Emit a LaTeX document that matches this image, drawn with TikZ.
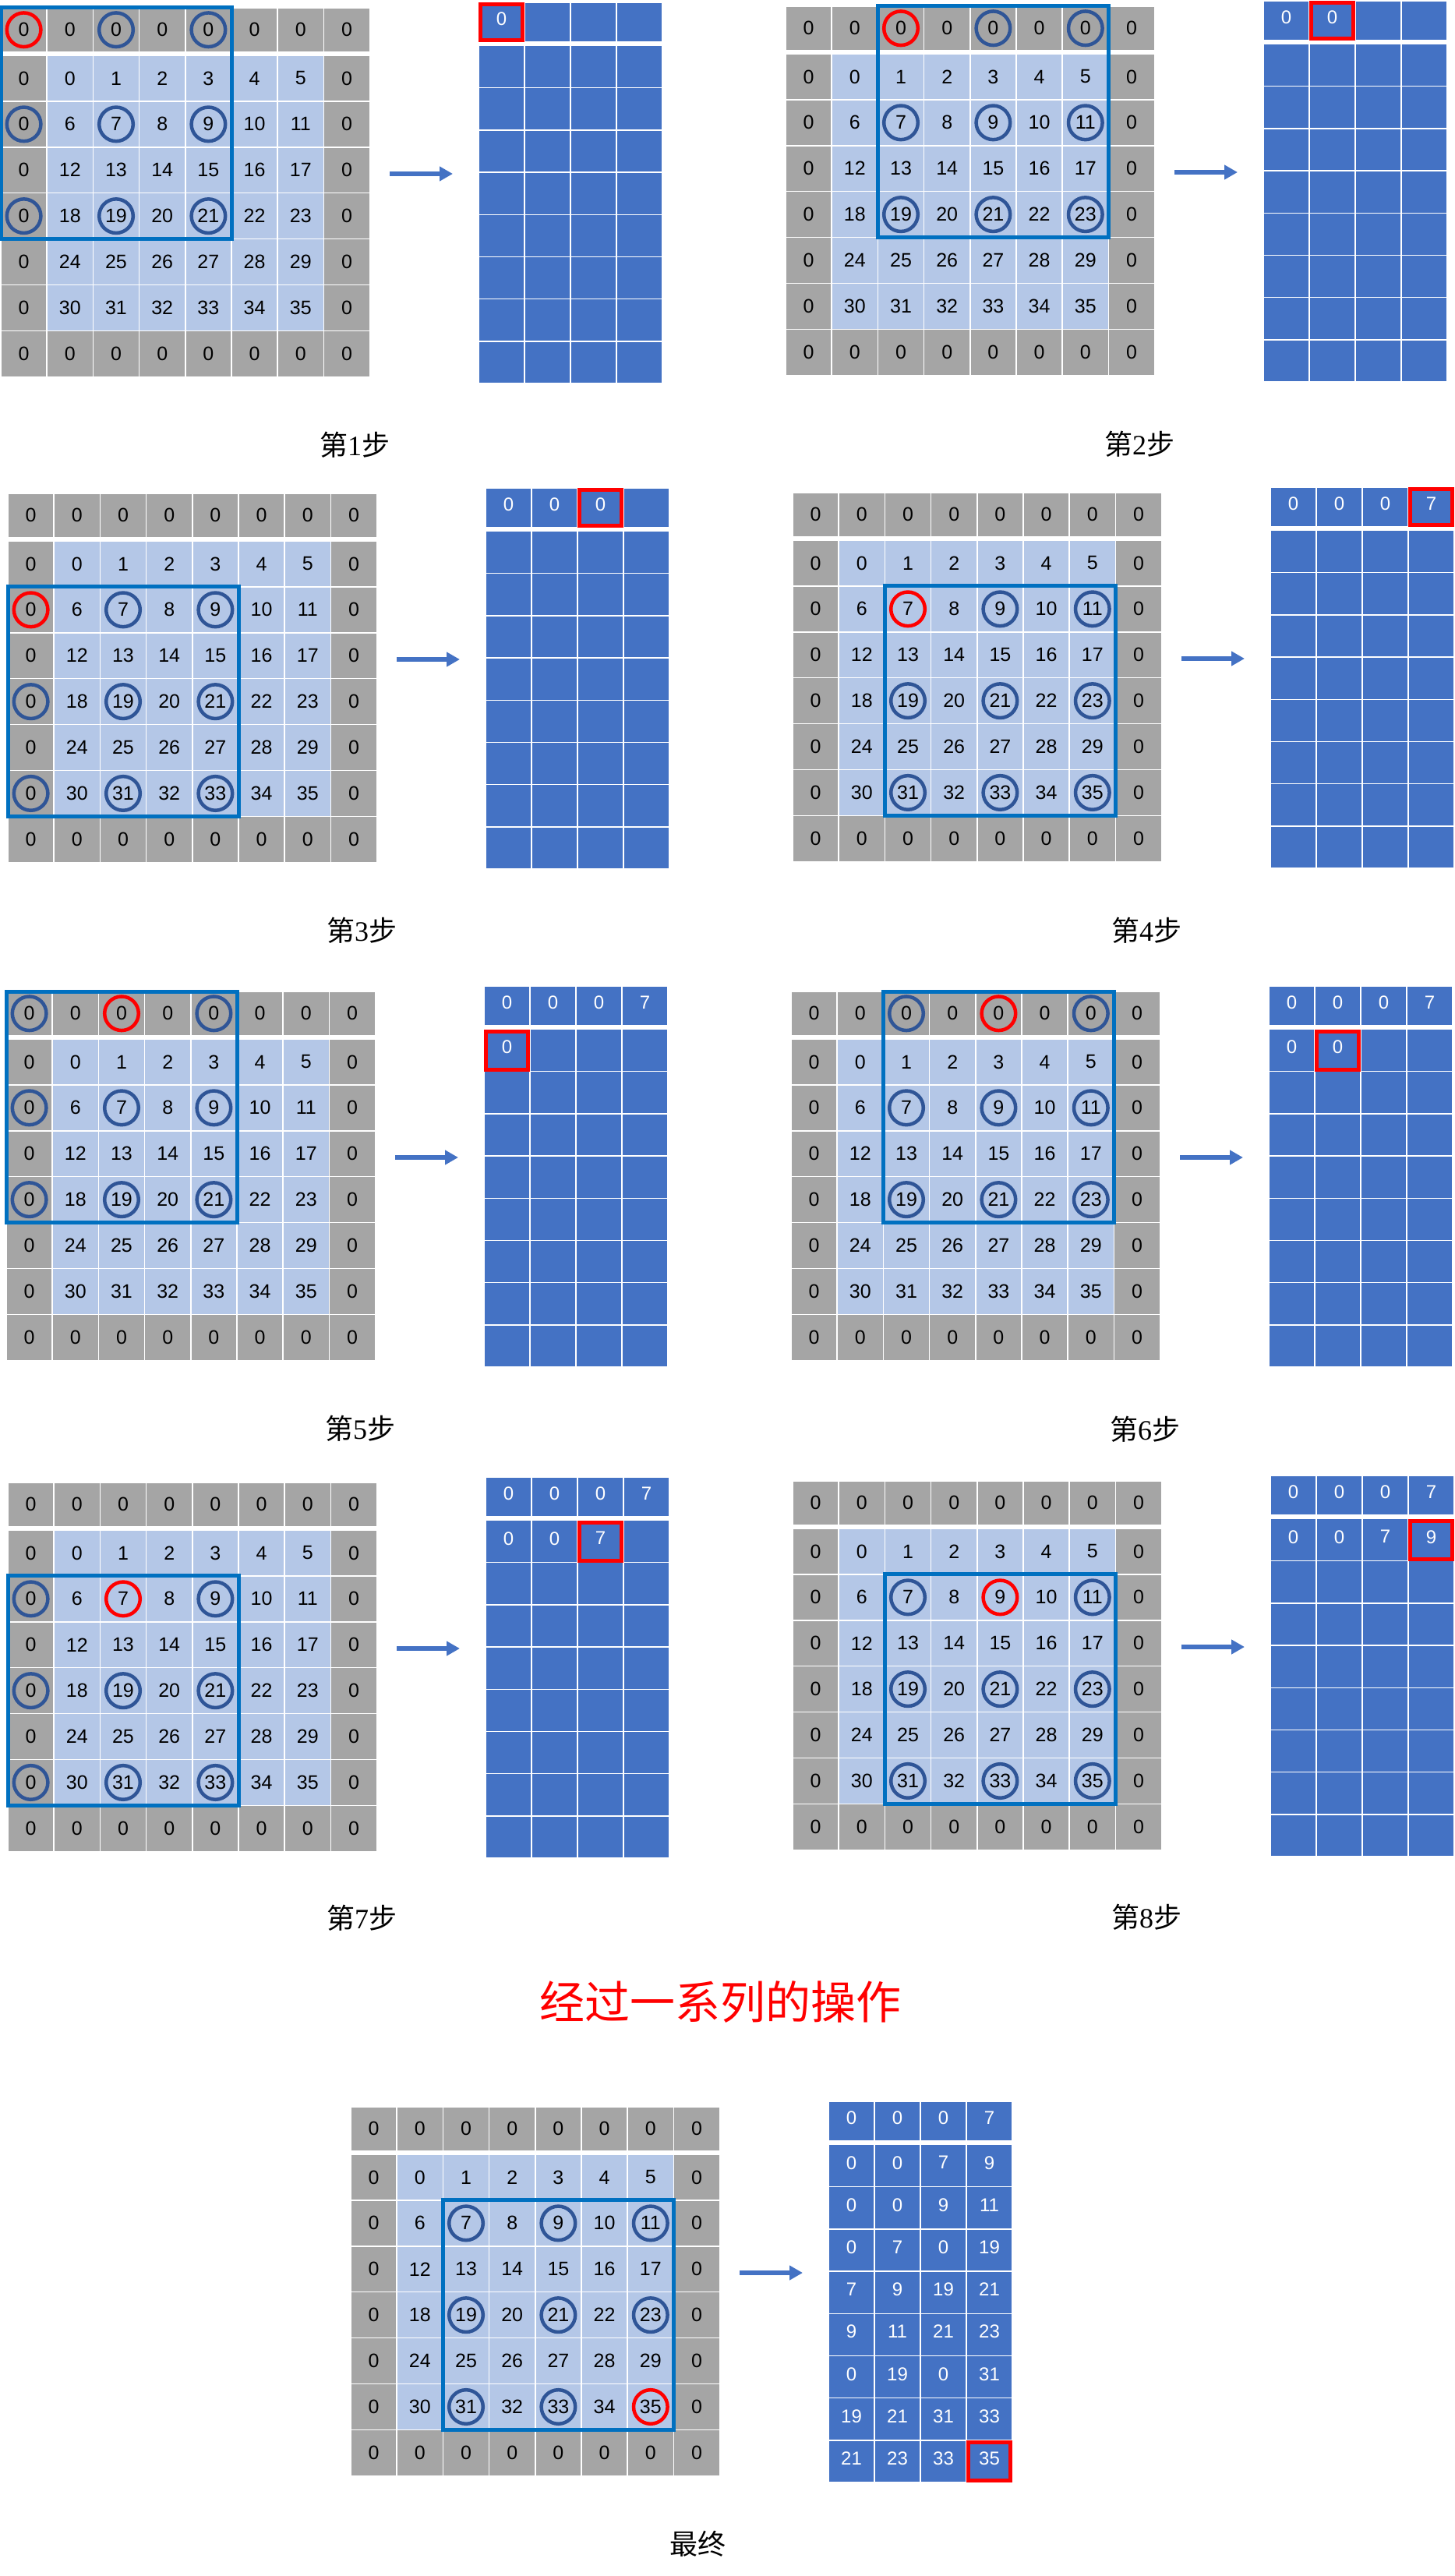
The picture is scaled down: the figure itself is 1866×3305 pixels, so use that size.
\documentclass[tikz,border=0pt]{standalone}
\usepackage{tikz}
\usepackage{fontspec}
\setmainfont{Liberation Serif}
\newfontfamily\cellfont{Liberation Sans}
\newfontfamily\cjk{Noto Sans CJK SC}
\usetikzlibrary{arrows.meta}
\definecolor{PadGray}{HTML}{A5A5A5}
\definecolor{CellBlue}{HTML}{B4C7E7}
\definecolor{OutBlue}{HTML}{4472C4}
\definecolor{KerBlue}{HTML}{0070C0}
\definecolor{RingBlue}{HTML}{2F5597}
\definecolor{MarkRed}{HTML}{FF0000}

\tikzset{
  cell/.style={draw=white, line width=1.5pt, inner sep=0pt, outer sep=0pt,
    minimum width=59.2pt, font=\cellfont\fontsize{25}{25}\selectfont},
  ocell/.style={draw=white, line width=1.5pt, fill=OutBlue, inner sep=0pt, outer sep=0pt,
    minimum width=59pt, text=white, text depth=8pt, font=\cellfont\fontsize{24}{24}\selectfont},
  ring/.style={draw=RingBlue, line width=4.5pt},
  hotring/.style={draw=MarkRed, line width=4.5pt},
  window/.style={draw=KerBlue, line width=5pt},
  hotbox/.style={draw=MarkRed, line width=5pt},
  flow/.style={draw=OutBlue, line width=6pt, -{Triangle[length=17pt,width=18pt]}},
  steplabel/.style={font=\fontsize{36}{36}\selectfont}
}

% im2col values, row by row
\def\outvals{{0,0,0,7,0,0,7,9,0,0,9,11,0,7,0,19,7,9,19,21,9,11,21,23,0,19,0,31,19,21,31,33,21,23,33,35}}
\newcommand{\stepname}[1]{{\cjk 第}#1{\cjk 步}}

% #1 id, #2 #3 grid origin, #4 #5 window, #6 #7 red ring, #8 filled, #9 red box
\newcommand{\convstep}[9]{%
  \foreach \gi in {0,...,7}{
    \foreach \gj in {0,...,7}{
      \pgfmathtruncatemacro{\inside}{(\gi>0)*(\gi<7)*(\gj>0)*(\gj<7)}
      \pgfmathtruncatemacro{\val}{\inside==1 ? 6*(\gi-1)+\gj-1 : 0}
      \pgfmathsetmacro{\cy}{\gi==0 ? #3+28.25 : #3+61+(\gi-1)*58.9+29.45}
      \pgfmathsetmacro{\ch}{\gi==0 ? 56.5 : 58.9}
      \ifnum\inside=1 \def\fc{CellBlue}\else\def\fc{PadGray}\fi
      \node[cell, fill=\fc, minimum height=\ch pt] (g#1-\gi-\gj) at ({#2+29.6+59.2*\gj},\cy) {\val};
    }
  }
  \foreach \ka in {0,2,4}{
    \foreach \kb in {0,2,4}{
      \pgfmathtruncatemacro{\kr}{#4+\ka}
      \pgfmathtruncatemacro{\kc}{#5+\kb}
      \pgfmathtruncatemacro{\hot}{(\kr==#6)*(\kc==#7)}
      \ifnum\hot=1 \draw[hotring] (g#1-\kr-\kc.center) circle (21.8pt);
      \else \draw[ring] (g#1-\kr-\kc.center) circle (21.8pt);\fi
    }
  }
  \pgfmathtruncatemacro{\er}{#4+4}
  \pgfmathtruncatemacro{\ec}{#5+4}
  \draw[window] (g#1-#4-#5.north west) rectangle (g#1-\er-\ec.south east);
  % output matrix
  \foreach \oi in {0,...,8}{
    \foreach \oj in {0,...,3}{
      \pgfmathtruncatemacro{\kk}{4*\oi+\oj}
      \pgfmathsetmacro{\cy}{\oi==0 ? #3-7+25.5 : #3-7+55.5+(\oi-1)*54.2+27.1}
      \pgfmathsetmacro{\ch}{\oi==0 ? 51 : 54.2}
      \ifnum\kk<#8\relax \pgfmathtruncatemacro{\val}{\outvals[\kk]}\else\def\val{}\fi
      \node[ocell, minimum height=\ch pt] (o#1-\oi-\oj) at ({#2+613+29.5+59*\oj},\cy) {\val};
    }
  }
  \pgfmathtruncatemacro{\hr}{#9/4}
  \pgfmathtruncatemacro{\hc}{mod(#9,4)}
  \draw[hotbox] ([shift={(2.5pt,-2.5pt)}]o#1-\hr-\hc.north west) rectangle ([shift={(-2.5pt,2.5pt)}]o#1-\hr-\hc.south east);
  \coordinate (as#1) at (#2+499,#3+213);
  \coordinate (ae#1) at (#2+580,#3+213);
  \draw[flow] (as#1) -- (ae#1);
}

\begin{document}
\begin{tikzpicture}[x=1pt,y=-1pt]
  \useasboundingbox (0,0) rectangle (1866,3305);

  % eight single steps
  \convstep{1}{1}{10}{0}{0}{0}{0}{1}{0}
  \convstep{2}{1008}{8}{0}{2}{0}{2}{2}{1}
  \convstep{3}{10}{633}{2}{0}{2}{0}{3}{2}
  \convstep{4}{1017}{632}{2}{2}{2}{2}{4}{3}
  \convstep{5}{8}{1272}{0}{0}{0}{2}{5}{4}
  \convstep{6}{1015}{1272}{0}{2}{0}{4}{6}{5}
  \convstep{7}{10}{1902}{2}{0}{2}{2}{7}{6}
  \convstep{8}{1017}{1900}{2}{2}{2}{4}{8}{7}

  \node[steplabel] (lab1) at (455,571) {\stepname{1}};
  \node[steplabel] (lab2) at (1462,570) {\stepname{2}};
  \node[steplabel] (lab3) at (464,1194) {\stepname{3}};
  \node[steplabel] (lab4) at (1471,1194) {\stepname{4}};
  \node[steplabel] (lab5) at (462,1833) {\stepname{5}};
  \node[steplabel] (lab6) at (1469,1834) {\stepname{6}};
  \node[steplabel] (lab7) at (464,2461) {\stepname{7}};
  \node[steplabel] (lab8) at (1471,2460) {\stepname{8}};

  \node[font=\cjk\fontsize{58}{58}\selectfont, text=MarkRed] (head) at (924,2568) {经过一系列的操作};

  % final state
  \convstep{9}{450}{2703}{2}{2}{6}{6}{36}{35}
  \node[steplabel] (lab9) at (895,3264) {{\cjk 最终}};
\end{tikzpicture}
\end{document}
